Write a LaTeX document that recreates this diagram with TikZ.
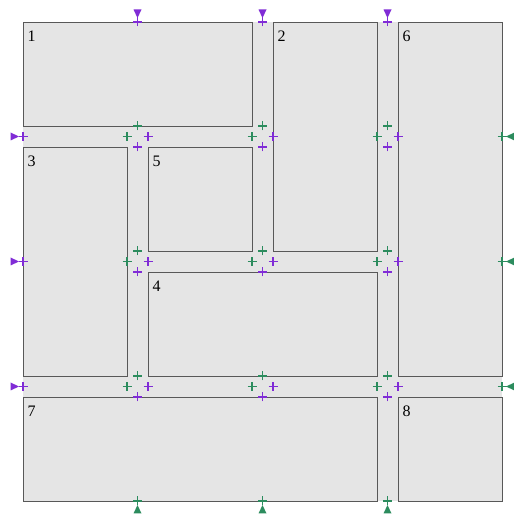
\documentclass[tikz,border=0pt]{standalone}
\usepackage{fontspec}
\setmainfont{Liberation Serif}
\definecolor{cutpurple}{RGB}{128,44,214}
\definecolor{cutgreen}{RGB}{44,140,94}
\definecolor{sheetgray}{RGB}{229,229,229}
\definecolor{edgegray}{RGB}{88,88,88}
\newcommand{\cs}{0.832}
\newcommand{\drawpanel}[5]{%
	\draw[panel] (#1,#2) rectangle (#3+\cs,#4+\cs);
	\node[tag] (p#5) at (#1,#4+\cs) {#5};}
\newcommand{\tickmark}[2]{%
	\draw[draw=#1,line width=1.2pt] (#2) +(-4.5pt,0) -- +(4.5pt,0) +(0,-4.5pt) -- +(0,4.5pt);}
\tikzset{
	panel/.style={draw=edgegray,line width=0.7pt},
	tag/.style={anchor=north west,inner sep=0pt,xshift=4.5pt,yshift=-9pt,font=\fontsize{16}{16}\selectfont},
	pointer/.pic={\fill (0,4pt) -- (-4pt,12.5pt) -- (4pt,12.5pt) -- cycle;},
}
\begin{document}
\begin{tikzpicture}[x=125pt,y=125pt]
	\useasboundingbox (-0.184,-0.128) rectangle (3.928,4.008);
	\fill[sheetgray] (0,0) rectangle (3.832,3.832);
	\drawpanel{0}{3}{1}{3}{1}
	\drawpanel{2}{2}{2}{3}{2}
	\drawpanel{0}{1}{0}{2}{3}
	\drawpanel{1}{1}{2}{1}{4}
	\drawpanel{1}{2}{1}{2}{5}
	\drawpanel{3}{1}{3}{3}{6}
	\drawpanel{0}{0}{2}{0}{7}
	\drawpanel{3}{0}{3}{0}{8}
	\foreach \k in {1,2,3} \foreach \m in {1,2,3} {
		\tickmark{cutgreen}{\k-0.084,\m}
		\tickmark{cutgreen}{\k-0.168,\m-0.084}
		\tickmark{cutpurple}{\k,\m-0.084}
		\tickmark{cutpurple}{\k-0.084,\m-0.168}
	}
	\foreach \k in {1,2,3} {
		\tickmark{cutpurple}{\k-0.084,3.832}
		\pic[fill=cutpurple] at (\k-0.084,3.832) {pointer};
		\tickmark{cutpurple}{0,\k-0.084}
		\pic[fill=cutpurple,rotate=90] at (0,\k-0.084) {pointer};
		\tickmark{cutgreen}{\k-0.084,0}
		\pic[fill=cutgreen,rotate=180] at (\k-0.084,0) {pointer};
		\tickmark{cutgreen}{3.832,\k-0.084}
		\pic[fill=cutgreen,rotate=270] at (3.832,\k-0.084) {pointer};
	}
\end{tikzpicture}
\end{document}
